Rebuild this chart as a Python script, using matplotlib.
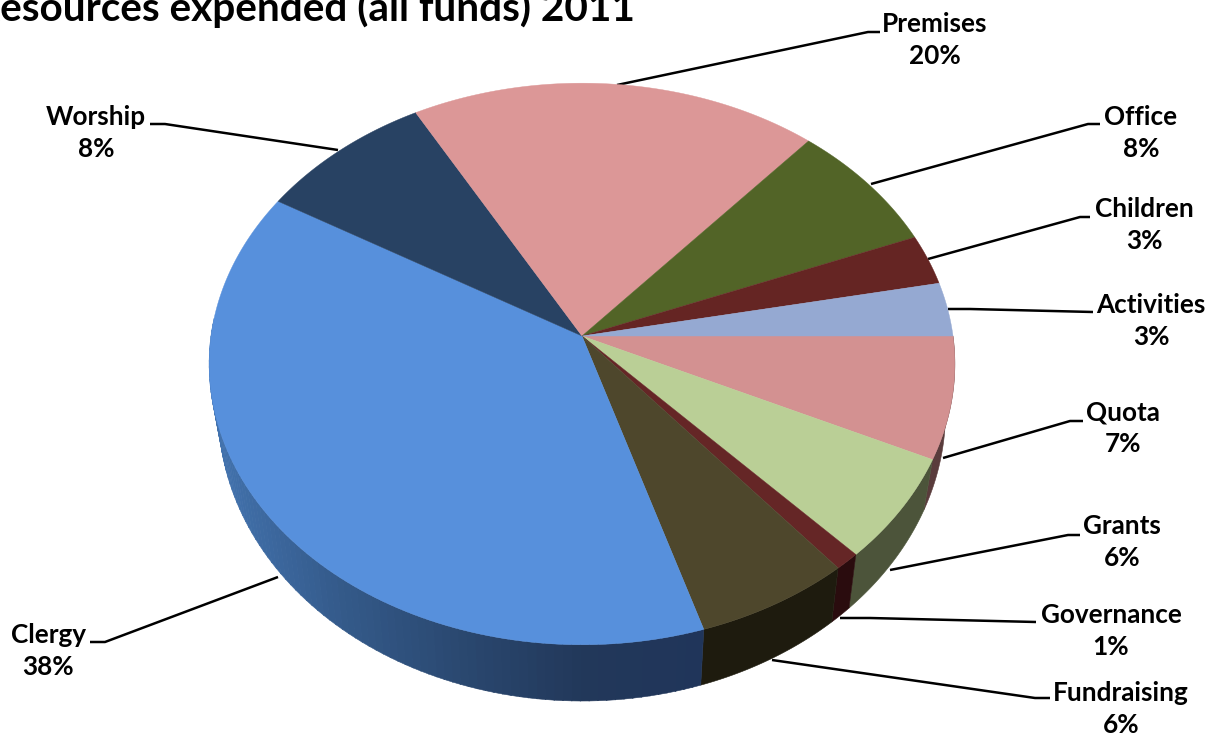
import matplotlib
matplotlib.use("Agg")
import matplotlib.pyplot as plt
import numpy as np
from matplotlib.colors import LinearSegmentedColormap

plt.rcParams['font.family'] = ['Lato', 'DejaVu Sans']

# slices run clockwise from the 3 o'clock position
names = ['Quota', 'Grants', 'Governance', 'Fundraising', 'Clergy',
         'Worship', 'Premises', 'Office', 'Children', 'Activities']
shares = [7.0, 6.0, 1.0, 6.2, 38.3, 8.4, 19.5, 7.6, 2.9, 3.1]
top_colors = ['#d39191', '#bacf96', '#652626', '#4e472c', '#5790dc',
              '#284263', '#dc9797', '#526427', '#652523', '#95a9d2']
side_colors = ['#5a3c3c', '#4c543a', '#2a0c0e', '#1e1b0e', None,
               '#1e3050', '#a07070', '#3c4a1c', '#451818', '#6a7ca0']

# label centres and leader lines, in figure pixels
label_xy = [(1123, 428), (1122, 542), (1111, 631), (1121, 709), (48, 651),
            (96, 133), (935, 40), (1141, 133), (1144, 225), (1151, 321)]
leaders = [
    [(943, 458), (1070, 421), (1083, 421)],
    [(890, 570), (1068, 535), (1080, 535)],
    [(840, 618), (870, 618), (1036, 622)],
    [(772, 660), (1035, 698), (1050, 698)],
    [(278, 577), (105, 642), (90, 642)],
    [(338, 150), (165, 124), (150, 124)],
    [(617, 85), (868, 32), (880, 32)],
    [(871, 184), (1088, 124), (1100, 124)],
    [(928, 259), (1080, 217), (1090, 217)],
    [(948, 309), (970, 309), (1093, 312)],
]

cx, cy = 582, 336
rx, ry, tilt = 371, 278, 0.0996
depth, squeeze_x, stretch_y = 47, 0.975, 1.03


def top_edge(theta):
    # perspective view of a flat disc
    d = 1 - tilt * np.sin(theta)
    return cx + rx * np.cos(theta) / d, cy + ry * np.sin(theta) / d


def bottom_edge(theta):
    x, y = top_edge(theta)
    return cx + squeeze_x * (x - cx), cy + stretch_y * (y - cy) + depth


def side_quad(a, b, color):
    t = np.linspace(a, b, max(int((b - a) * 120), 2))
    tx, ty = top_edge(t)
    bx, by = bottom_edge(t)
    ax.fill(np.r_[tx, bx[::-1]], np.r_[ty, by[::-1]], color=color, lw=0.4, zorder=1)


fig = plt.figure(figsize=(12.18, 7.36), dpi=100)
ax = fig.add_axes([0, 0, 1, 1])
ax.set_xlim(0, 1218)
ax.set_ylim(736, 0)
ax.axis('off')

edges = np.r_[0, np.cumsum(shares)] / np.sum(shares) * 2 * np.pi
clergy_side = LinearSegmentedColormap.from_list(
    'clergy_side', ['#20355a', '#22385a', '#2a4870', '#345a8a', '#4272ad'])

# leader lines sit under the pie
for pts in leaders:
    xs, ys = zip(*pts)
    ax.plot(xs, ys, color='black', lw=1.8, solid_capstyle='butt', zorder=0)

# outer wall, only the part facing the viewer
for i in range(len(shares)):
    a, b = edges[i], min(edges[i + 1], np.pi * 1.02)
    if a >= b:
        continue
    if names[i] == 'Clergy':
        steps = np.linspace(a, b, 90)
        for s0, s1 in zip(steps[:-1], steps[1:]):
            mx = top_edge((s0 + s1) / 2)[0]
            side_quad(s0, s1 + 0.002, clergy_side(np.clip((705 - mx) / 490, 0, 1)))
    else:
        side_quad(a, b, side_colors[i])

# top face
for i in range(len(shares)):
    t = np.linspace(edges[i], edges[i + 1], 200)
    tx, ty = top_edge(t)
    ax.fill(np.r_[cx, tx], np.r_[cy, ty], color=top_colors[i], lw=0.3, zorder=2)

for name, share, (lx, ly) in zip(names, shares, label_xy):
    ax.text(lx, ly, f'{name}\n{share:.0f}%', ha='center', va='center',
            fontsize=18.8, fontweight='bold', color='black', linespacing=1.4, zorder=3)

ax.text(635, 21, 'Resources expended (all funds) 2011', ha='right', va='baseline',
        fontsize=29.2, fontweight='bold', color='black', zorder=3)

fig.savefig('out.png', dpi=100)
